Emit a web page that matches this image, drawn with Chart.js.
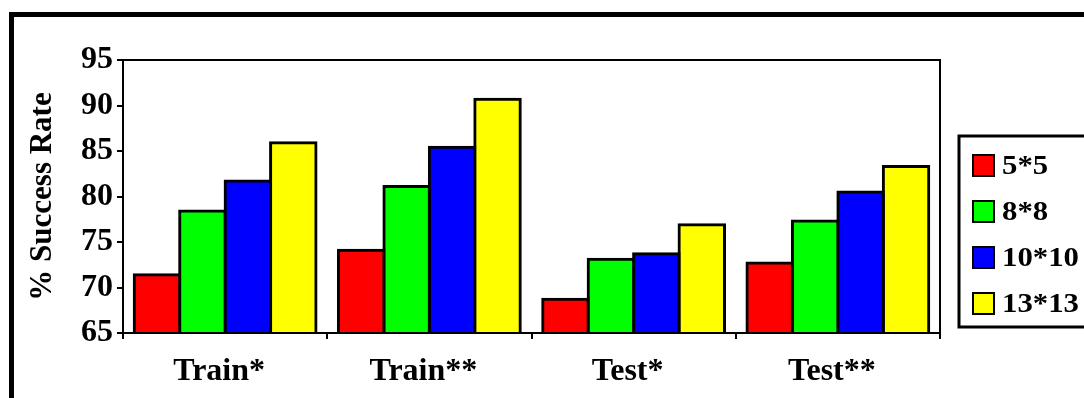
<!DOCTYPE html>
<html>
<head>
<meta charset="utf-8">
<script src="https://cdn.jsdelivr.net/npm/chart.js@4"></script>
<style>
  html, body { margin: 0; padding: 0; background: #fff; }
  #c { display: block; }
</style>
</head>
<body>
<canvas id="c" width="1084" height="398"></canvas>
<script>
// Success rates per data split, for each grid size
const categories = ['Train*', 'Train**', 'Test*', 'Test**'];
const seriesNames = ['5*5', '8*8', '10*10', '13*13'];
const rate5x5   = [71.4, 74.1, 68.7, 72.7];
const rate8x8   = [78.4, 81.1, 73.1, 77.3];
const rate10x10 = [81.7, 85.4, 73.7, 80.5];
const rate13x13 = [85.9, 90.7, 76.9, 83.3];
const yTicks = [65, 70, 75, 80, 85, 90, 95];

const seriesValues = [rate5x5, rate8x8, rate10x10, rate13x13];
const seriesColors = ['#FF0000', '#00FF00', '#0000FF', '#FFFF00'];
const FONT = '"Liberation Serif", "Times New Roman", serif';

// Outer frame, plot box and boxed legend
const decorations = {
  id: 'decorations',
  beforeDraw(chart) {
    const ctx = chart.ctx;
    ctx.save();
    ctx.fillStyle = '#fff';
    ctx.fillRect(0, 0, chart.width, chart.height);
    ctx.strokeStyle = '#000';
    ctx.lineWidth = 5;
    ctx.strokeRect(11.5, 14.5, 2000, 2000);
    ctx.restore();
  },
  afterDraw(chart) {
    const ctx = chart.ctx;
    const a = chart.chartArea;
    ctx.save();
    ctx.strokeStyle = '#000';
    ctx.lineWidth = 2;
    ctx.strokeRect(a.left, a.top, a.right - a.left, a.bottom - a.top);

    // legend
    const lx = a.right + 19, ly = 136, lh = 191;
    ctx.lineWidth = 3;
    ctx.strokeRect(lx, ly, 400, lh);
    ctx.font = 'bold 27px ' + FONT;
    ctx.textBaseline = 'middle';
    ctx.textAlign = 'left';
    chart.data.datasets.forEach((ds, i) => {
      const cy = ly + 29 + i * 46;
      ctx.fillStyle = ds.backgroundColor;
      ctx.fillRect(lx + 14, cy - 10, 21, 21);
      ctx.lineWidth = 2;
      ctx.strokeRect(lx + 14, cy - 10, 21, 21);
      ctx.fillStyle = '#000';
      ctx.save();
      ctx.translate(lx + 43, cy + 2);
      ctx.scale(1.14, 1);
      ctx.fillText(ds.label, 0, 0);
      ctx.restore();
    });
    ctx.restore();
  }
};

new Chart(document.getElementById('c'), {
  type: 'bar',
  data: {
    labels: categories,
    datasets: seriesNames.map((name, i) => ({
      label: name,
      data: seriesValues[i],
      backgroundColor: seriesColors[i],
      borderColor: '#000',
      borderWidth: 3,
      borderSkipped: false,
      inflateAmount: 1.5,
      categoryPercentage: 0.89,
      barPercentage: 1.0
    }))
  },
  options: {
    responsive: false,
    animation: false,
    devicePixelRatio: 1,
    layout: { padding: { left: 0, top: 60, right: 144, bottom: 0 } },
    plugins: {
      legend: { display: false },
      tooltip: { enabled: false }
    },
    scales: {
      x: {
        afterFit(scale) { scale.height = 65; },
        grid: {
          offset: true,
          drawOnChartArea: false,
          tickLength: 6,
          color: '#000',
          lineWidth: 2
        },
        border: { display: true, color: '#000', width: 2 },
        ticks: {
          color: '#000',
          padding: 14,
          labelOffset: -6,
          font: { family: FONT, size: 32, weight: 'bold' }
        }
      },
      y: {
        min: 65,
        max: 95,
        afterFit(scale) { scale.width = 123; },
        afterBuildTicks(scale) { scale.ticks = yTicks.map(v => ({ value: v })); },
        grid: {
          drawOnChartArea: false,
          tickLength: 6,
          color: '#000',
          lineWidth: 2
        },
        border: { display: true, color: '#000', width: 2 },
        ticks: {
          color: '#000',
          padding: 4,
          font: { family: FONT, size: 32, weight: 'bold' }
        },
        title: {
          display: true,
          text: '% Success Rate',
          color: '#000',
          padding: { top: 27, bottom: 0 },
          font: { family: FONT, size: 31, weight: 'bold', lineHeight: 1 }
        }
      }
    }
  },
  plugins: [decorations]
});
</script>
</body>
</html>
